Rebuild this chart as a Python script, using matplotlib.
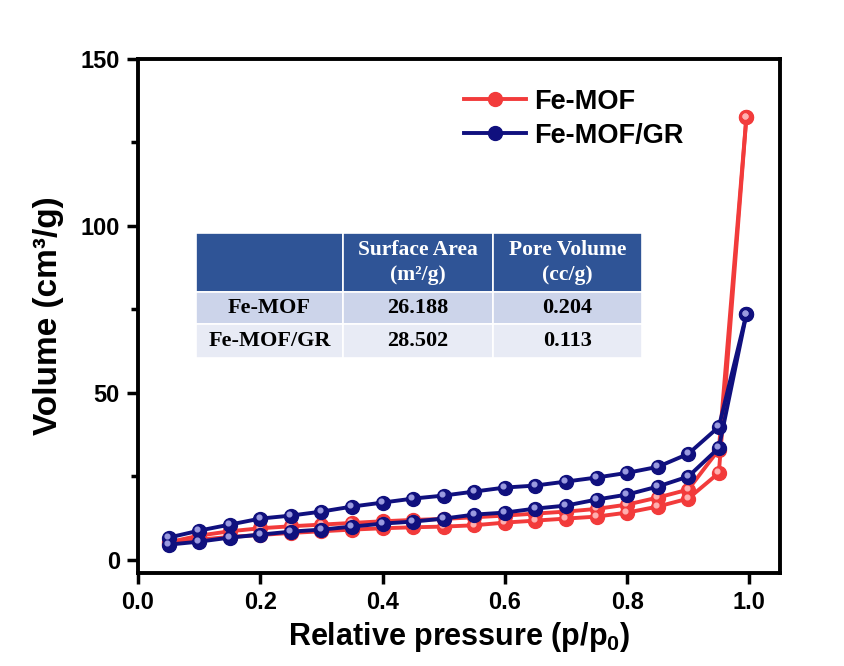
import matplotlib
matplotlib.use("Agg")
import matplotlib.pyplot as plt
from matplotlib import transforms
from matplotlib.lines import Line2D
from matplotlib.patches import Rectangle

plt.rcParams["font.family"] = ["Liberation Sans", "DejaVu Sans"]
plt.rcParams["font.weight"] = "bold"
plt.rcParams["mathtext.fontset"] = "custom"
plt.rcParams["mathtext.rm"] = "Liberation Sans:bold"
plt.rcParams["mathtext.bf"] = "Liberation Sans:bold"
plt.rcParams["mathtext.default"] = "bf"

# Relative pressure points
p_ads = [0.05, 0.10, 0.15, 0.20, 0.25, 0.30, 0.35, 0.40, 0.45, 0.50,
         0.55, 0.60, 0.65, 0.70, 0.75, 0.80, 0.85, 0.90, 0.95, 0.995]
p_des = [0.995, 0.95, 0.90, 0.85, 0.80, 0.75, 0.70, 0.65, 0.60, 0.55,
         0.50, 0.45, 0.40, 0.35, 0.30, 0.25, 0.20, 0.15, 0.10, 0.05]

# Fe-MOF isotherm (cm3/g)
femof_ads = [4.6, 6.0, 6.8, 7.4, 8.0, 8.5, 9.0, 9.4, 9.7, 9.9,
             10.3, 11.1, 11.7, 12.3, 12.9, 14.1, 15.9, 18.3, 26.0, 132.5]
femof_des = [132.5, 33.0, 21.0, 18.6, 16.5, 15.2, 14.4, 13.8, 13.2, 12.7,
             12.2, 11.9, 11.5, 11.0, 10.5, 10.0, 9.4, 8.5, 7.2, 5.2]

# Fe-MOF/GR isotherm (cm3/g)
femofgr_ads = [4.5, 5.4, 6.6, 7.5, 8.4, 9.0, 9.9, 10.8, 11.4, 12.3,
               13.5, 14.1, 15.3, 16.2, 18.0, 19.5, 21.9, 24.9, 33.5, 73.5]
femofgr_des = [73.5, 39.8, 31.7, 27.8, 26.0, 24.6, 23.4, 22.2, 21.6, 20.4,
               19.2, 18.3, 17.1, 15.9, 14.4, 13.2, 12.3, 10.5, 8.7, 6.6]

# Textural properties table
table_cols = ["", "Surface Area\n(m²/g)", "Pore Volume\n(cc/g)"]
table_rows = [["Fe-MOF", "26.188", "0.204"],
              ["Fe-MOF/GR", "28.502", "0.113"]]

red = "#F23B3B"
red_hi = "#FFB0B0"
blue = "#10107E"
blue_hi = "#9A9AE0"

fig = plt.figure(figsize=(8.45, 6.66), dpi=100)
ax = fig.add_axes([138 / 845, 1 - 573 / 666, 642 / 845, 514 / 666])

hi = transforms.offset_copy(ax.transData, fig=fig, x=-1.2, y=1.2, units="points")


def isotherm(px_a, ya, px_d, yd, color, hcolor, z):
    for xs, ys in ((px_a, ya), (px_d, yd)):
        ax.plot(xs, ys, "-o", color=color, lw=2.8, ms=10,
                mfc=color, mec=color, zorder=z)
        ax.plot(xs, ys, "o", ls="none", ms=3.4, color=hcolor,
                transform=hi, zorder=z + 0.5)


isotherm(p_ads, femof_ads, p_des, femof_des, red, red_hi, 3)
isotherm(p_ads, femofgr_ads, p_des, femofgr_des, blue, blue_hi, 4)

ax.set_xlim(0, 1.05)
ax.set_ylim(-4, 150)
ax.set_xticks([0.0, 0.2, 0.4, 0.6, 0.8, 1.0])
ax.set_xticklabels(["0.0", "0.2", "0.4", "0.6", "0.8", "1.0"])
ax.set_yticks([0, 50, 100, 150])
ax.set_yticks([25, 75, 125], minor=True)

for s in ax.spines.values():
    s.set_linewidth(2.8)
ax.tick_params(axis="both", which="major", direction="out", length=8,
               width=2.5, labelsize=17, pad=5)
ax.tick_params(axis="y", which="minor", direction="out", length=5, width=2.5)
ax.tick_params(top=False, right=False)

ax.set_xlabel("Relative pressure (p/p$_0$)", fontsize=22, fontweight="bold",
              labelpad=4)
ax.set_ylabel("Volume (cm³/g)", fontsize=24, fontweight="bold", labelpad=12)

# Legend
handles = [
    Line2D([0], [0], color=red, lw=2.8, marker="o", ms=10),
    Line2D([0], [0], color=blue, lw=2.8, marker="o", ms=10),
]
ax.legend(handles, ["Fe-MOF", "Fe-MOF/GR"], loc="upper left",
          bbox_to_anchor=(0.47, 0.99), frameon=False, numpoints=1,
          handlelength=2.3, handletextpad=0.3, labelspacing=0.3,
          prop={"family": "Liberation Sans", "weight": "bold", "size": 19.5})

# Table drawn in axes fraction coordinates
tx = [(196 - 138) / 642, (343 - 138) / 642, (493 - 138) / 642, (642 - 138) / 642]
ty = [(573 - 233) / 514, (573 - 292) / 514, (573 - 324) / 514, (573 - 358) / 514]
row_colors = ["#2F5496", "#CCD4EA", "#E8EBF5"]
cells = [table_cols] + table_rows
for r in range(3):
    for c in range(3):
        x0, x1 = tx[c], tx[c + 1]
        y0, y1 = ty[r + 1], ty[r]
        ax.add_patch(Rectangle((x0, y0), x1 - x0, y1 - y0,
                               transform=ax.transAxes, facecolor=row_colors[r],
                               edgecolor="white", lw=1.2, zorder=6))
        txt = cells[r][c]
        if txt:
            ax.text((x0 + x1) / 2, (y0 + y1) / 2, txt, transform=ax.transAxes,
                    ha="center", va="center", zorder=7,
                    family="Liberation Serif", fontweight="bold",
                    fontsize=15.5 if r == 0 else 16,
                    color="white" if r == 0 else "black",
                    linespacing=1.3)

fig.savefig("out.png", dpi=100)
